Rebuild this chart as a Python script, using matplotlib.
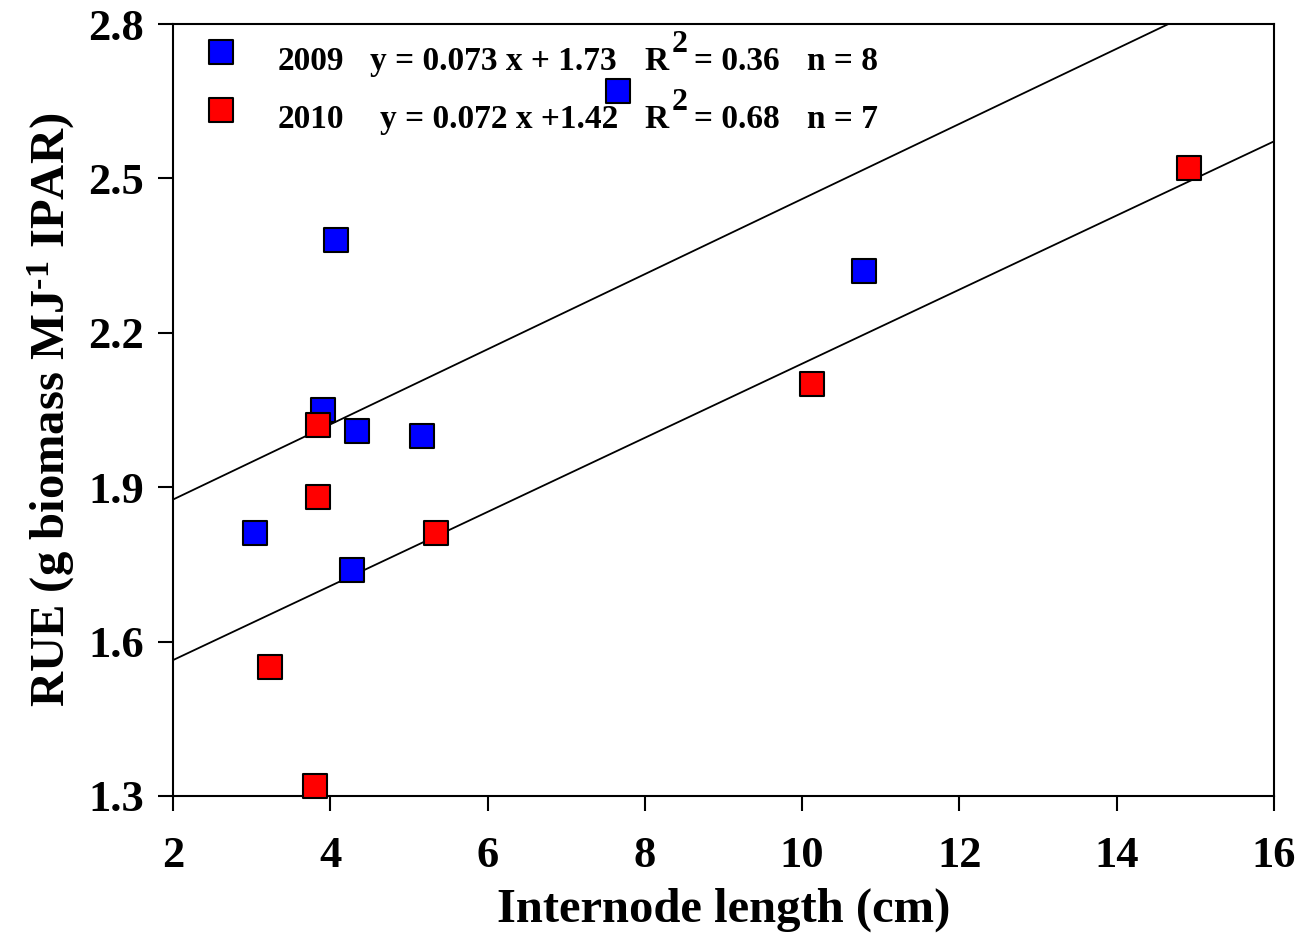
import matplotlib.pyplot as plt
import numpy as np

plt.rcParams['font.family'] = ['Liberation Serif', 'DejaVu Serif']
plt.rcParams['font.weight'] = 'bold'
plt.rcParams['mathtext.fontset'] = 'custom'
plt.rcParams['mathtext.rm'] = 'Liberation Serif:bold'
plt.rcParams['mathtext.it'] = 'Liberation Serif:bold'
plt.rcParams['mathtext.bf'] = 'Liberation Serif:bold'

# 2009 season
x_2009 = [3.04, 3.91, 4.07, 4.34, 4.28, 5.17, 7.66, 10.79]
y_2009 = [1.81, 2.05, 2.38, 2.01, 1.74, 2.00, 2.67, 2.32]
# 2010 season
x_2010 = [3.84, 3.84, 3.23, 3.81, 5.34, 10.13, 14.92]
y_2010 = [2.02, 1.88, 1.55, 1.32, 1.81, 2.10, 2.52]

# regression coefficients (slope, intercept)
fit_2009 = (0.073, 1.73)
fit_2010 = (0.072, 1.42)

legend_lines = [
    ("2009", "y = 0.073 x + 1.73", "= 0.36", "n = 8"),
    ("2010", "y = 0.072 x +1.42", "= 0.68", "n = 7"),
]

fig = plt.figure(figsize=(13.16, 9.34), dpi=100)
ax = fig.add_axes([0.1315, 0.1478, 0.8366, 0.8265])

xs = np.array([2, 16])
for slope, icpt in (fit_2009, fit_2010):
    ax.plot(xs, slope * xs + icpt, color='black', lw=1.3, zorder=2)

ax.scatter(x_2009, y_2009, marker='s', s=17**2, c='#0000ff',
           edgecolors='black', linewidths=1.5, zorder=3, clip_on=False)
ax.scatter(x_2010, y_2010, marker='s', s=17**2, c='#ff0000',
           edgecolors='black', linewidths=1.5, zorder=3, clip_on=False)

ax.set_xlim(2, 16)
ax.set_ylim(1.3, 2.8)
ax.set_xticks(range(2, 17, 2))
ax.set_yticks([1.3, 1.6, 1.9, 2.2, 2.5, 2.8])
ax.set_yticklabels(['1.3', '1.6', '1.9', '2.2', '2.5', '2.8'])
ax.tick_params(direction='out', length=11, width=1.5, labelsize=32)
ax.tick_params(axis='x', pad=18)
ax.tick_params(axis='y', pad=10)
for lab in ax.get_xticklabels() + ax.get_yticklabels():
    lab.set_fontweight('bold')
for sp in ax.spines.values():
    sp.set_linewidth(1.5)

ax.set_xlabel('Internode length (cm)', fontsize=35, fontweight='bold', labelpad=8)
ax.set_ylabel('RUE (g biomass MJ$^{\u20101}$ IPAR)', fontsize=35,
              fontweight='bold', labelpad=8)

# legend drawn by hand to keep the column layout
colors = ['#0000ff', '#ff0000']
ypos = [0.951, 0.876]
eq_x = [0.179, 0.188]
for (yr, eq, r2, n), col, yp, ex in zip(legend_lines, colors, ypos, eq_x):
    ax.scatter([0.0436], [yp + 0.013], marker='s', s=17**2, c=col,
               edgecolors='black', linewidths=1.5, transform=ax.transAxes,
               clip_on=False, zorder=4)
    ax.text(0.095, yp, yr, transform=ax.transAxes, fontsize=24,
            fontweight='bold', va='center')
    ax.text(ex, yp, eq, transform=ax.transAxes, fontsize=24,
            fontweight='bold', va='center')
    ax.text(0.428, yp, 'R', transform=ax.transAxes, fontsize=24,
            fontweight='bold', va='center')
    ax.text(0.4525, yp + 0.022, '2', transform=ax.transAxes, fontsize=23,
            fontweight='bold', va='center')
    ax.text(0.473, yp, r2, transform=ax.transAxes, fontsize=24,
            fontweight='bold', va='center')
    ax.text(0.576, yp, n, transform=ax.transAxes, fontsize=24,
            fontweight='bold', va='center')

fig.savefig('out.png', dpi=100)
